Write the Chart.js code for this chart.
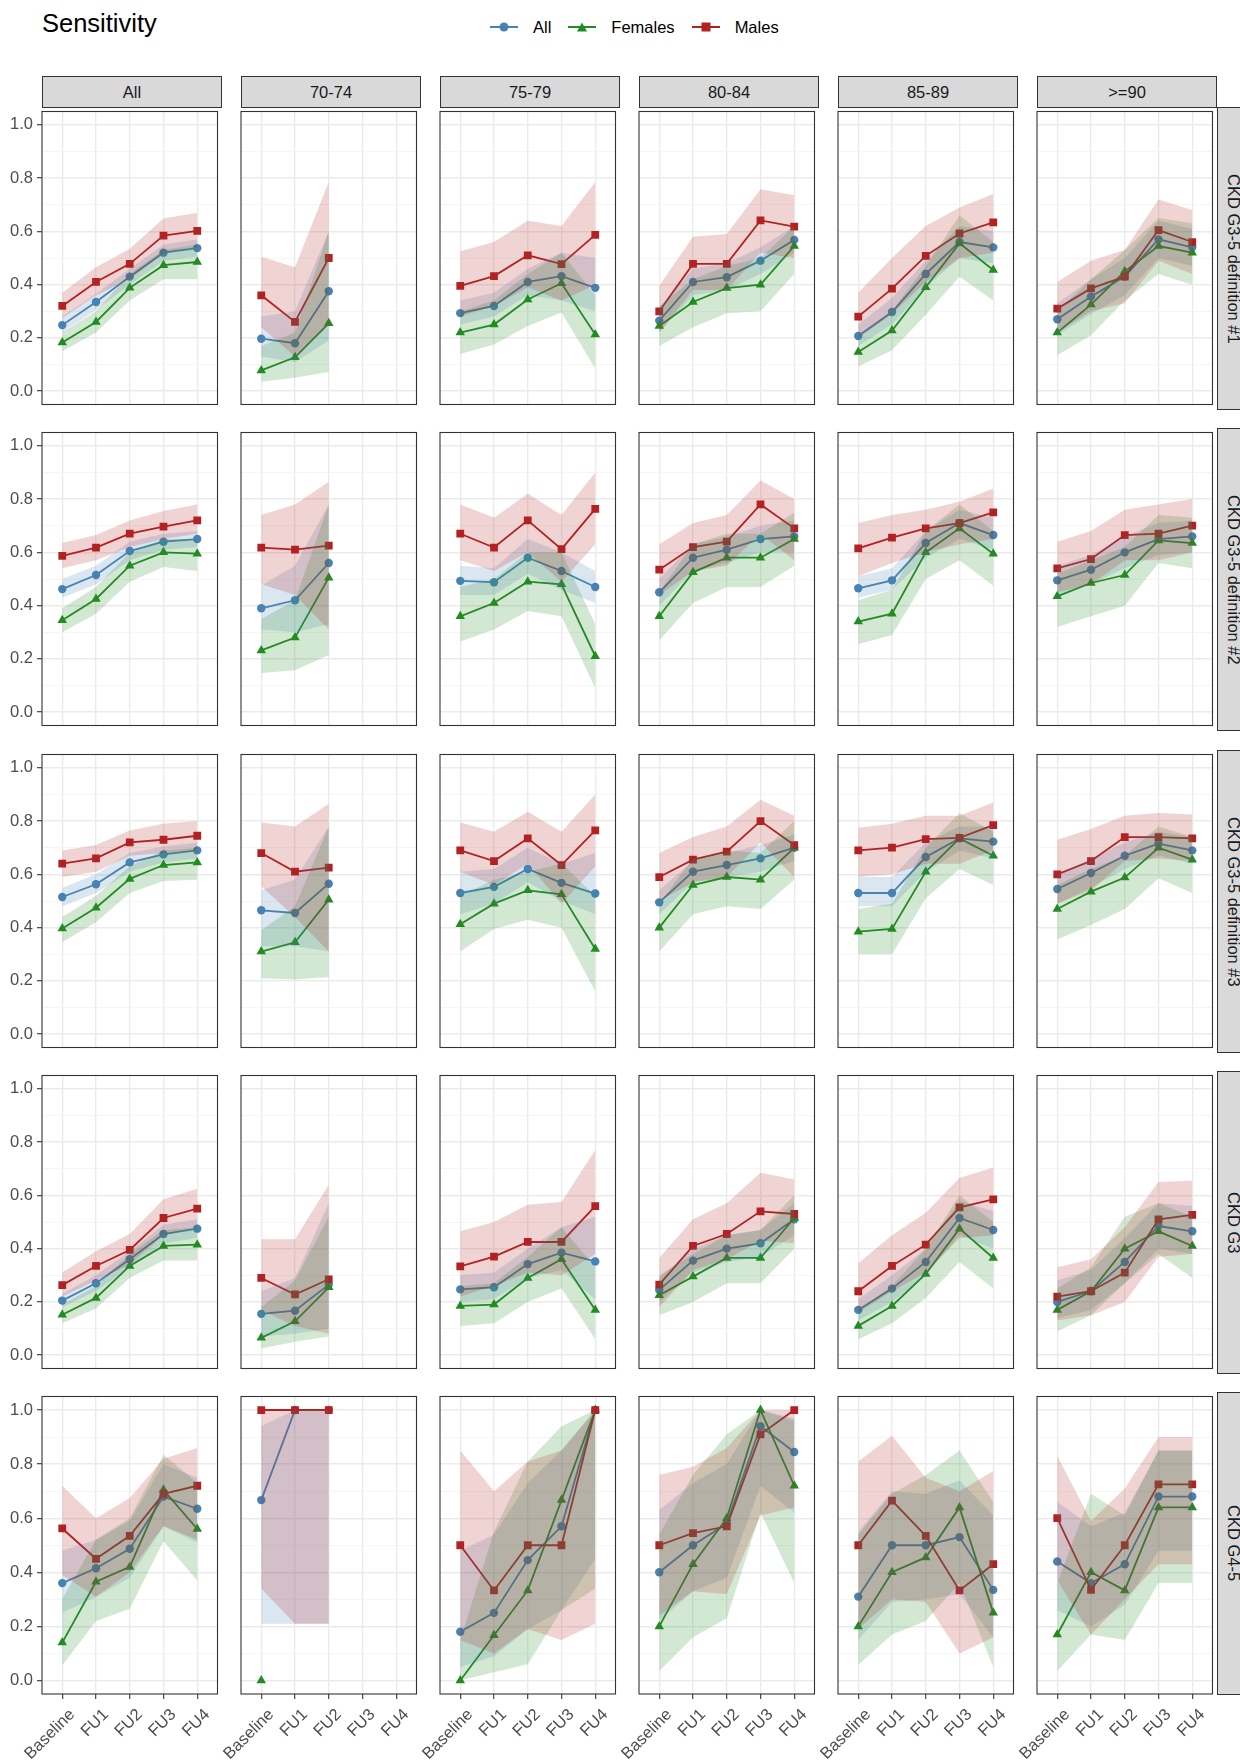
<!DOCTYPE html>
<html>
<head>
<meta charset="utf-8">
<title>Sensitivity</title>
<script src="https://cdn.jsdelivr.net/npm/chart.js@4"></script>
<style>
  body { margin: 0; width: 1240px; height: 1760px; overflow: hidden; background: #fff; position: relative; font-family: "Liberation Sans", Arial, sans-serif; }
  #title { position: absolute; left: 42px; top: 9px; font-size: 25.5px; color: #000; }
  #legend { position: absolute; top: 17px; left: 490px; display: flex; align-items: center; font-size: 16.5px; color: #000; }
  .item { display: flex; align-items: center; margin-right: 17px; }
  .key { position: relative; width: 28px; height: 20px; margin-right: 15px; }
  .key .ln { position: absolute; left: 0; right: 0; top: 9px; height: 2px; }
  .key .mk { position: absolute; left: 50%; top: 50%; transform: translate(-50%, -50%); }
  .strip { position: absolute; box-sizing: border-box; background: #d9d9d9; border: 1px solid #333; color: #1a1a1a; font-size: 16.5px; display: flex; align-items: center; justify-content: center; }
  .strip.side { writing-mode: vertical-rl; }
  canvas { position: absolute; }
</style>
</head>
<body>
<div id="title">Sensitivity</div>
<div id="legend"></div>
<script>
const visits = ["Baseline", "FU1", "FU2", "FU3", "FU4"];
const ageGroups = ["All", "70-74", "75-79", "80-84", "85-89", ">=90"];
const outcomes = ["CKD G3-5 definition #1", "CKD G3-5 definition #2", "CKD G3-5 definition #3", "CKD G3", "CKD G4-5"];
const groupLabels = ["All", "Females", "Males"];

// CKD G3-5 definition #1 (one inner list per age group)
const def1All = [[0.248, 0.335, 0.43, 0.52, 0.537], [0.197, 0.18, 0.375], [0.293, 0.32, 0.41, 0.432, 0.388], [0.265, 0.41, 0.428, 0.49, 0.568], [0.207, 0.297, 0.44, 0.56, 0.54], [0.27, 0.355, 0.43, 0.57, 0.54]];
const def1AllLo = [[0.22, 0.305, 0.40, 0.49, 0.505], [0.13, 0.11, 0.19], [0.25, 0.28, 0.36, 0.34, 0.30], [0.22, 0.36, 0.38, 0.44, 0.52], [0.17, 0.25, 0.39, 0.50, 0.48], [0.21, 0.29, 0.36, 0.50, 0.47]];
const def1AllHi = [[0.28, 0.365, 0.46, 0.55, 0.57], [0.28, 0.30, 0.60], [0.34, 0.37, 0.46, 0.52, 0.50], [0.31, 0.46, 0.48, 0.54, 0.62], [0.25, 0.35, 0.49, 0.62, 0.60], [0.33, 0.42, 0.50, 0.64, 0.61]];
const def1Fem = [[0.183, 0.26, 0.388, 0.473, 0.485], [0.078, 0.127, 0.255], [0.22, 0.25, 0.344, 0.405, 0.213], [0.245, 0.335, 0.387, 0.40, 0.545], [0.147, 0.228, 0.39, 0.555, 0.455], [0.22, 0.325, 0.45, 0.545, 0.52]];
const def1FemLo = [[0.15, 0.22, 0.34, 0.42, 0.42], [0.035, 0.05, 0.072], [0.14, 0.175, 0.245, 0.295, 0.085], [0.17, 0.24, 0.293, 0.30, 0.44], [0.093, 0.154, 0.287, 0.43, 0.34], [0.135, 0.21, 0.34, 0.44, 0.40]];
const def1FemHi = [[0.22, 0.30, 0.44, 0.53, 0.55], [0.17, 0.22, 0.60], [0.30, 0.34, 0.44, 0.52, 0.36], [0.32, 0.42, 0.47, 0.50, 0.62], [0.20, 0.30, 0.47, 0.66, 0.56], [0.30, 0.42, 0.53, 0.65, 0.63]];
const def1Male = [[0.32, 0.41, 0.478, 0.584, 0.602], [0.36, 0.26, 0.50], [0.395, 0.432, 0.51, 0.477, 0.587], [0.30, 0.478, 0.478, 0.641, 0.618], [0.28, 0.385, 0.508, 0.592, 0.634], [0.31, 0.386, 0.43, 0.605, 0.56]];
const def1MaleLo = [[0.275, 0.36, 0.42, 0.52, 0.54], [0.24, 0.13, 0.25], [0.28, 0.32, 0.39, 0.34, 0.40], [0.22, 0.38, 0.38, 0.52, 0.50], [0.20, 0.29, 0.41, 0.50, 0.52], [0.22, 0.30, 0.33, 0.49, 0.44]];
const def1MaleHi = [[0.37, 0.465, 0.535, 0.648, 0.67], [0.505, 0.465, 0.785], [0.525, 0.56, 0.64, 0.62, 0.785], [0.396, 0.58, 0.59, 0.758, 0.736], [0.37, 0.50, 0.62, 0.69, 0.74], [0.41, 0.49, 0.53, 0.72, 0.68]];

// CKD G3-5 definition #2
const def2All = [[0.462, 0.515, 0.605, 0.64, 0.65], [0.39, 0.42, 0.56], [0.493, 0.488, 0.58, 0.53, 0.47], [0.45, 0.58, 0.61, 0.65, 0.66], [0.465, 0.495, 0.635, 0.71, 0.665], [0.495, 0.535, 0.60, 0.65, 0.66]];
const def2AllLo = [[0.43, 0.48, 0.57, 0.61, 0.62], [0.31, 0.30, 0.33], [0.44, 0.44, 0.52, 0.46, 0.41], [0.40, 0.53, 0.56, 0.60, 0.60], [0.43, 0.46, 0.58, 0.65, 0.61], [0.44, 0.48, 0.54, 0.59, 0.60]];
const def2AllHi = [[0.50, 0.55, 0.64, 0.67, 0.68], [0.475, 0.55, 0.78], [0.55, 0.54, 0.65, 0.60, 0.53], [0.50, 0.63, 0.66, 0.70, 0.72], [0.51, 0.54, 0.68, 0.76, 0.73], [0.55, 0.59, 0.66, 0.71, 0.72]];
const def2Fem = [[0.345, 0.425, 0.55, 0.60, 0.595], [0.232, 0.28, 0.505], [0.36, 0.41, 0.49, 0.48, 0.21], [0.36, 0.525, 0.58, 0.58, 0.65], [0.34, 0.37, 0.60, 0.69, 0.595], [0.435, 0.485, 0.515, 0.645, 0.635]];
const def2FemLo = [[0.30, 0.37, 0.49, 0.545, 0.53], [0.147, 0.157, 0.215], [0.265, 0.31, 0.38, 0.36, 0.09], [0.27, 0.41, 0.47, 0.47, 0.55], [0.255, 0.29, 0.50, 0.57, 0.475], [0.32, 0.36, 0.40, 0.56, 0.54]];
const def2FemHi = [[0.39, 0.47, 0.60, 0.65, 0.65], [0.35, 0.42, 0.78], [0.47, 0.50, 0.60, 0.60, 0.33], [0.45, 0.63, 0.67, 0.67, 0.75], [0.42, 0.46, 0.68, 0.78, 0.68], [0.52, 0.57, 0.62, 0.74, 0.73]];
const def2Male = [[0.587, 0.618, 0.67, 0.697, 0.72], [0.618, 0.61, 0.625], [0.67, 0.618, 0.72, 0.612, 0.763], [0.535, 0.62, 0.64, 0.78, 0.69], [0.615, 0.655, 0.69, 0.71, 0.75], [0.54, 0.575, 0.665, 0.67, 0.70]];
const def2MaleLo = [[0.54, 0.57, 0.62, 0.65, 0.67], [0.48, 0.44, 0.31], [0.57, 0.53, 0.60, 0.49, 0.63], [0.44, 0.53, 0.55, 0.67, 0.57], [0.51, 0.56, 0.60, 0.63, 0.65], [0.45, 0.48, 0.57, 0.57, 0.60]];
const def2MaleHi = [[0.635, 0.665, 0.72, 0.755, 0.78], [0.74, 0.78, 0.865], [0.78, 0.73, 0.82, 0.74, 0.90], [0.63, 0.71, 0.74, 0.87, 0.80], [0.71, 0.74, 0.76, 0.79, 0.84], [0.64, 0.68, 0.76, 0.78, 0.80]];

// CKD G3-5 definition #3
const def3All = [[0.515, 0.563, 0.645, 0.675, 0.69], [0.465, 0.455, 0.565], [0.53, 0.553, 0.62, 0.568, 0.528], [0.495, 0.61, 0.635, 0.66, 0.70], [0.53, 0.53, 0.665, 0.735, 0.723], [0.545, 0.605, 0.67, 0.715, 0.69]];
const def3AllLo = [[0.48, 0.53, 0.61, 0.645, 0.66], [0.33, 0.33, 0.31], [0.45, 0.49, 0.57, 0.50, 0.45], [0.45, 0.57, 0.59, 0.61, 0.65], [0.48, 0.48, 0.61, 0.69, 0.66], [0.49, 0.55, 0.62, 0.67, 0.64]];
const def3AllHi = [[0.55, 0.60, 0.68, 0.705, 0.72], [0.54, 0.58, 0.78], [0.61, 0.62, 0.70, 0.64, 0.68], [0.54, 0.65, 0.68, 0.71, 0.75], [0.59, 0.59, 0.72, 0.78, 0.78], [0.60, 0.66, 0.72, 0.76, 0.74]];
const def3Fem = [[0.397, 0.475, 0.583, 0.635, 0.645], [0.31, 0.345, 0.505], [0.413, 0.49, 0.54, 0.525, 0.32], [0.40, 0.56, 0.59, 0.58, 0.70], [0.385, 0.395, 0.61, 0.735, 0.67], [0.47, 0.535, 0.588, 0.70, 0.655]];
const def3FemLo = [[0.345, 0.42, 0.53, 0.575, 0.58], [0.21, 0.205, 0.215], [0.31, 0.395, 0.43, 0.40, 0.16], [0.31, 0.45, 0.48, 0.47, 0.58], [0.30, 0.30, 0.51, 0.62, 0.56], [0.355, 0.41, 0.47, 0.585, 0.53]];
const def3FemHi = [[0.44, 0.52, 0.63, 0.69, 0.70], [0.39, 0.48, 0.78], [0.52, 0.58, 0.61, 0.64, 0.52], [0.49, 0.66, 0.69, 0.68, 0.80], [0.47, 0.49, 0.70, 0.83, 0.76], [0.56, 0.62, 0.67, 0.78, 0.74]];
const def3Male = [[0.64, 0.66, 0.72, 0.73, 0.745], [0.68, 0.61, 0.625], [0.69, 0.65, 0.735, 0.635, 0.765], [0.59, 0.655, 0.685, 0.80, 0.71], [0.69, 0.70, 0.732, 0.737, 0.785], [0.60, 0.65, 0.74, 0.74, 0.735]];
const def3MaleLo = [[0.59, 0.61, 0.67, 0.68, 0.69], [0.555, 0.44, 0.31], [0.61, 0.56, 0.64, 0.49, 0.63], [0.50, 0.57, 0.59, 0.72, 0.59], [0.59, 0.60, 0.64, 0.64, 0.69], [0.49, 0.54, 0.65, 0.66, 0.65]];
const def3MaleHi = [[0.69, 0.71, 0.765, 0.79, 0.80], [0.795, 0.78, 0.865], [0.795, 0.76, 0.835, 0.76, 0.90], [0.68, 0.74, 0.78, 0.88, 0.82], [0.775, 0.79, 0.82, 0.82, 0.87], [0.73, 0.77, 0.82, 0.83, 0.825]];

// CKD G3
const g3All = [[0.205, 0.27, 0.36, 0.455, 0.475], [0.155, 0.167, 0.265], [0.247, 0.255, 0.342, 0.385, 0.352], [0.245, 0.355, 0.40, 0.42, 0.51], [0.17, 0.25, 0.35, 0.515, 0.47], [0.20, 0.24, 0.35, 0.485, 0.465]];
const g3AllLo = [[0.18, 0.24, 0.33, 0.42, 0.44], [0.07, 0.08, 0.10], [0.20, 0.21, 0.29, 0.32, 0.21], [0.20, 0.31, 0.35, 0.37, 0.45], [0.13, 0.20, 0.30, 0.45, 0.40], [0.14, 0.17, 0.27, 0.40, 0.38]];
const g3AllHi = [[0.23, 0.30, 0.39, 0.49, 0.51], [0.24, 0.29, 0.57], [0.30, 0.31, 0.40, 0.48, 0.52], [0.29, 0.40, 0.45, 0.47, 0.57], [0.21, 0.30, 0.40, 0.58, 0.54], [0.28, 0.32, 0.44, 0.57, 0.56]];
const g3Fem = [[0.152, 0.215, 0.335, 0.41, 0.415], [0.065, 0.127, 0.255], [0.185, 0.19, 0.29, 0.36, 0.17], [0.225, 0.295, 0.365, 0.365, 0.515], [0.11, 0.185, 0.305, 0.475, 0.365], [0.17, 0.24, 0.40, 0.465, 0.41]];
const g3FemLo = [[0.12, 0.175, 0.29, 0.355, 0.355], [0.025, 0.05, 0.07], [0.11, 0.12, 0.20, 0.25, 0.06], [0.15, 0.20, 0.27, 0.27, 0.40], [0.06, 0.12, 0.215, 0.35, 0.25], [0.09, 0.15, 0.27, 0.38, 0.29]];
const g3FemHi = [[0.19, 0.26, 0.38, 0.47, 0.48], [0.18, 0.28, 0.52], [0.26, 0.27, 0.37, 0.48, 0.33], [0.30, 0.38, 0.45, 0.47, 0.60], [0.17, 0.26, 0.40, 0.60, 0.50], [0.25, 0.33, 0.52, 0.57, 0.52]];
const g3Male = [[0.263, 0.335, 0.395, 0.515, 0.55], [0.29, 0.228, 0.285], [0.333, 0.37, 0.425, 0.425, 0.56], [0.265, 0.41, 0.455, 0.54, 0.53], [0.24, 0.335, 0.415, 0.555, 0.585], [0.22, 0.24, 0.31, 0.51, 0.527]];
const g3MaleLo = [[0.22, 0.28, 0.34, 0.45, 0.48], [0.17, 0.11, 0.08], [0.22, 0.26, 0.31, 0.30, 0.38], [0.18, 0.32, 0.36, 0.43, 0.42], [0.16, 0.24, 0.31, 0.44, 0.45], [0.13, 0.15, 0.20, 0.37, 0.38]];
const g3MaleHi = [[0.31, 0.39, 0.455, 0.585, 0.625], [0.435, 0.435, 0.64], [0.465, 0.50, 0.565, 0.575, 0.77], [0.365, 0.51, 0.57, 0.685, 0.66], [0.345, 0.45, 0.535, 0.665, 0.705], [0.33, 0.36, 0.48, 0.65, 0.655]];

// CKD G4-5
const g45All = [[0.36, 0.415, 0.487, 0.68, 0.635], [0.667, 1.0, 1.0], [0.18, 0.25, 0.445, 0.57, 1.0], [0.40, 0.50, 0.58, 0.94, 0.845], [0.31, 0.50, 0.50, 0.53, 0.335], [0.44, 0.36, 0.43, 0.68, 0.68]];
const g45AllLo = [[0.25, 0.31, 0.38, 0.57, 0.51], [0.21, 0.21, 0.21], [0.05, 0.09, 0.19, 0.26, 0.45], [0.22, 0.33, 0.38, 0.72, 0.62], [0.15, 0.29, 0.30, 0.32, 0.16], [0.26, 0.20, 0.28, 0.48, 0.48]];
const g45AllHi = [[0.48, 0.52, 0.59, 0.80, 0.75], [0.94, 1.0, 1.0], [0.48, 0.54, 0.73, 0.85, 1.0], [0.63, 0.73, 0.80, 1.0, 0.97], [0.55, 0.70, 0.69, 0.74, 0.61], [0.66, 0.57, 0.62, 0.85, 0.85]];
const g45Fem = [[0.14, 0.365, 0.42, 0.705, 0.56], [0.0, null, null], [0.0, 0.167, 0.333, 0.667, 1.0], [0.20, 0.43, 0.60, 1.0, 0.72], [0.20, 0.40, 0.455, 0.64, 0.25], [0.17, 0.40, 0.333, 0.64, 0.64]];
const g45FemLo = [[0.055, 0.22, 0.265, 0.515, 0.37], [null, null, null], [0.0, 0.03, 0.06, 0.26, 0.34], [0.035, 0.16, 0.23, 0.62, 0.36], [0.057, 0.17, 0.22, 0.36, 0.05], [0.035, 0.17, 0.15, 0.36, 0.36]];
const g45FemHi = [[0.30, 0.52, 0.60, 0.835, 0.73], [null, null, null], [0.15, 0.55, 0.81, 0.94, 1.0], [0.54, 0.76, 0.91, 1.0, 0.96], [0.54, 0.69, 0.76, 0.85, 0.66], [0.36, 0.69, 0.61, 0.85, 0.85]];
const g45Male = [[0.562, 0.45, 0.535, 0.69, 0.72], [1.0, 1.0, 1.0], [0.50, 0.333, 0.50, 0.50, 1.0], [0.50, 0.545, 0.57, 0.91, 1.0], [0.50, 0.665, 0.535, 0.333, 0.43], [0.60, 0.335, 0.50, 0.725, 0.725]];
const g45MaleLo = [[0.39, 0.31, 0.40, 0.57, 0.52], [0.34, 0.21, 0.21], [0.15, 0.10, 0.19, 0.15, 0.21], [0.24, 0.33, 0.32, 0.61, 0.64], [0.19, 0.30, 0.29, 0.10, 0.16], [0.37, 0.17, 0.30, 0.43, 0.43]];
const g45MaleHi = [[0.72, 0.60, 0.675, 0.82, 0.86], [1.0, 1.0, 1.0], [0.85, 0.70, 0.81, 0.85, 1.0], [0.76, 0.79, 0.86, 1.0, 1.0], [0.81, 0.905, 0.75, 0.70, 0.775], [0.83, 0.59, 0.71, 0.90, 0.90]];

// table of the rows above, in facet order
const rows = [
  { all: def1All, allLo: def1AllLo, allHi: def1AllHi, fem: def1Fem, femLo: def1FemLo, femHi: def1FemHi, male: def1Male, maleLo: def1MaleLo, maleHi: def1MaleHi },
  { all: def2All, allLo: def2AllLo, allHi: def2AllHi, fem: def2Fem, femLo: def2FemLo, femHi: def2FemHi, male: def2Male, maleLo: def2MaleLo, maleHi: def2MaleHi },
  { all: def3All, allLo: def3AllLo, allHi: def3AllHi, fem: def3Fem, femLo: def3FemLo, femHi: def3FemHi, male: def3Male, maleLo: def3MaleLo, maleHi: def3MaleHi },
  { all: g3All, allLo: g3AllLo, allHi: g3AllHi, fem: g3Fem, femLo: g3FemLo, femHi: g3FemHi, male: g3Male, maleLo: g3MaleLo, maleHi: g3MaleHi },
  { all: g45All, allLo: g45AllLo, allHi: g45AllHi, fem: g45Fem, femLo: g45FemLo, femHi: g45FemHi, male: g45Male, maleLo: g45MaleLo, maleHi: g45MaleHi },
];

// first entry is drawn on top
const groups = [
  { key: "male", label: "Males", color: "#B22222", band: "rgba(178, 34, 34, 0.2)", style: "rect", radius: 5.5 },
  { key: "fem", label: "Females", color: "#228B22", band: "rgba(34, 139, 34, 0.2)", style: "triangle", radius: 5.5 },
  { key: "all", label: "All", color: "#4682B4", band: "rgba(70, 130, 180, 0.2)", style: "circle", radius: 4.2 },
];

// layout of the facet grid
const colX = [42, 241, 440, 639, 838, 1037];
const rowY = [107, 428, 750, 1071, 1392];
const PANEL_W = 180;
const PANEL_H = 302;
const LEFT = 43;
const BOTTOM = 66;

Chart.defaults.font.family = '"Liberation Sans", Arial, sans-serif';

const panelBorder = {
  id: "panelBorder",
  afterDraw(chart) {
    const a = chart.chartArea;
    const ctx = chart.ctx;
    ctx.save();
    ctx.strokeStyle = "#333333";
    ctx.lineWidth = 1.1;
    ctx.strokeRect(a.left, a.top, a.right - a.left, a.bottom - a.top);
    ctx.restore();
  },
};

function isMajor(ctx) {
  return !ctx.tick || Math.round(ctx.tick.value * 10) % 2 === 0;
}

function pts(arr) {
  return arr.map((v, i) => ({ x: i + 1, y: v }));
}

function makePanel(r, c) {
  const first = c === 0;
  const last = r === outcomes.length - 1;
  const row = rows[r];

  const w = LEFT + PANEL_W + 1;
  const h = 1 + PANEL_H + (last ? BOTTOM : 0) + 1;
  const canvas = document.createElement("canvas");
  canvas.width = w;
  canvas.height = h;
  canvas.style.width = w + "px";
  canvas.style.height = h + "px";
  canvas.style.left = colX[c] - LEFT + "px";
  canvas.style.top = rowY[r] - 1 + "px";
  document.body.appendChild(canvas);

  const datasets = [];
  // ribbons go on top of lines and points
  groups.forEach(function (g) {
    datasets.push({ data: pts(row[g.key + "Lo"][c]), borderWidth: 0, borderColor: "transparent", pointRadius: 0, fill: false });
    datasets.push({ data: pts(row[g.key + "Hi"][c]), borderWidth: 0, borderColor: "transparent", pointRadius: 0, fill: "-1", backgroundColor: g.band });
  });
  groups.forEach(function (g) {
    datasets.push({
      data: pts(row[g.key][c]),
      borderColor: g.color,
      backgroundColor: g.color,
      borderWidth: 1.8,
      pointStyle: g.style,
      pointRadius: g.radius,
      pointBackgroundColor: g.color,
      pointBorderWidth: 0,
      fill: false,
    });
  });

  new Chart(canvas, {
    type: "line",
    data: { datasets: datasets },
    options: {
      responsive: false,
      animation: false,
      events: [],
      layout: { padding: { left: first ? 1 : LEFT, right: 1, top: 1, bottom: 1 } },
      plugins: { legend: { display: false }, tooltip: { enabled: false } },
      scales: {
        x: {
          type: "linear",
          min: 0.4,
          max: 5.6,
          bounds: "data",
          border: { display: false },
          afterBuildTicks: function (scale) {
            scale.ticks = visits.map((v, i) => ({ value: i + 1 }));
          },
          afterFit: function (scale) {
            scale.height = last ? BOTTOM : 0;
            scale.paddingLeft = 0;
            scale.paddingRight = 0;
          },
          grid: { color: "#EBEBEB", lineWidth: 1.4, drawTicks: last, tickLength: 5, tickColor: "#333333", tickWidth: 1.1 },
          ticks: {
            display: last,
            color: "#4D4D4D",
            font: { size: 16.5 },
            padding: 6,
            labelOffset: 10,
            minRotation: 45,
            maxRotation: 45,
            autoSkip: false,
            callback: (v) => visits[v - 1],
          },
        },
        y: {
          type: "linear",
          min: -0.05,
          max: 1.05,
          bounds: "data",
          border: { display: false },
          afterBuildTicks: function (scale) {
            const t = [];
            for (let i = 0; i <= 10; i++) t.push({ value: i / 10 });
            scale.ticks = t;
          },
          afterFit: function (scale) {
            scale.width = first ? 42 : 0;
            scale.paddingTop = 0;
            scale.paddingBottom = 0;
          },
          grid: {
            color: (ctx) => (isMajor(ctx) ? "#EBEBEB" : "#F2F2F2"),
            lineWidth: (ctx) => (isMajor(ctx) ? 1.4 : 0.8),
            drawTicks: first,
            tickLength: 5,
            tickColor: (ctx) => (isMajor(ctx) ? "#333333" : "rgba(0,0,0,0)"),
            tickWidth: 1.1,
          },
          ticks: {
            display: first,
            color: "#4D4D4D",
            font: { size: 16.5 },
            padding: 4,
            callback: (v) => (Math.round(v * 10) % 2 === 0 ? v.toFixed(1) : ""),
          },
        },
      },
    },
    plugins: [panelBorder],
  });
}

function makeStrips() {
  ageGroups.forEach(function (name, c) {
    const s = document.createElement("div");
    s.className = "strip";
    s.style.left = colX[c] + "px";
    s.style.top = "76px";
    s.style.width = PANEL_W + "px";
    s.style.height = "32px";
    s.textContent = name;
    document.body.appendChild(s);
  });
  outcomes.forEach(function (name, r) {
    const s = document.createElement("div");
    s.className = "strip side";
    s.style.left = colX[5] + PANEL_W + "px";
    s.style.top = rowY[r] + "px";
    s.style.width = "32px";
    s.style.height = PANEL_H + 1 + "px";
    s.textContent = name;
    document.body.appendChild(s);
  });
}

function makeLegend() {
  const legend = document.getElementById("legend");
  const marks = {
    circle: (col) => `width:9px;height:9px;border-radius:50%;background:${col};`,
    triangle: (col) => `width:0;height:0;border-left:5.5px solid transparent;border-right:5.5px solid transparent;border-bottom:9px solid ${col};`,
    rect: (col) => `width:9px;height:9px;background:${col};`,
  };
  groupLabels.forEach(function (label) {
    const g = groups.find((x) => x.label === label);
    const item = document.createElement("div");
    item.className = "item";
    item.innerHTML =
      `<span class="key"><i class="ln" style="background:${g.color}"></i><i class="mk" style="${marks[g.style](g.color)}"></i></span>` +
      `<span>${label}</span>`;
    legend.appendChild(item);
  });
}

makeLegend();
makeStrips();
for (let r = 0; r < outcomes.length; r++) {
  for (let c = 0; c < ageGroups.length; c++) {
    makePanel(r, c);
  }
}
</script>
</body>
</html>
